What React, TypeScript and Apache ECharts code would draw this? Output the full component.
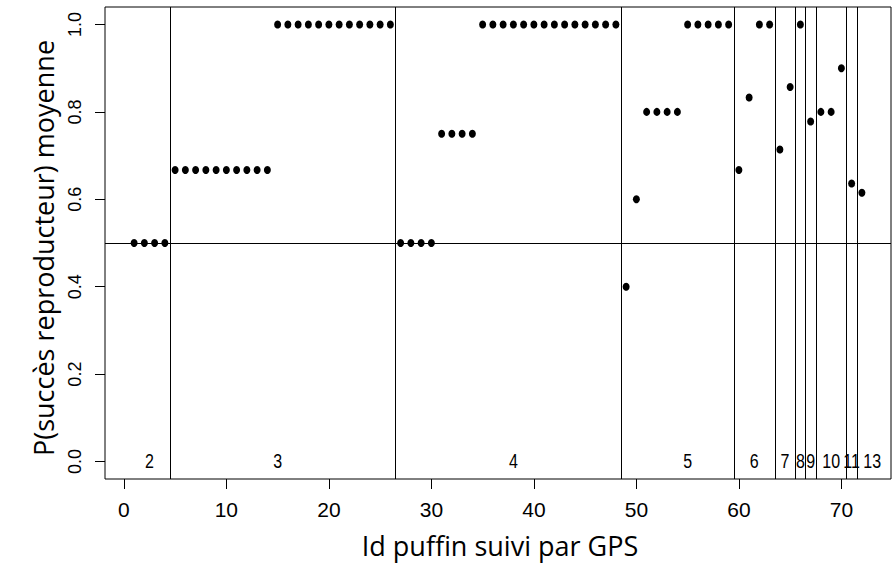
import React, { useEffect, useRef } from "react";
import * as echarts from "echarts";

// Id of each GPS-tracked shearwater
const ids = [
  1, 2, 3, 4, 5, 6, 7, 8, 9, 10, 11, 12, 13, 14, 15, 16, 17, 18, 19, 20, 21, 22, 23, 24,
  25, 26, 27, 28, 29, 30, 31, 32, 33, 34, 35, 36, 37, 38, 39, 40, 41, 42, 43, 44, 45, 46, 47, 48,
  49, 50, 51, 52, 53, 54, 55, 56, 57, 58, 59, 60, 61, 62, 63, 64, 65, 66, 67, 68, 69, 70, 71, 72,
];

// Mean P(breeding success) per bird
const pSucces = [
  0.5, 0.5, 0.5, 0.5,
  0.667, 0.667, 0.667, 0.667, 0.667, 0.667, 0.667, 0.667, 0.667, 0.667,
  1, 1, 1, 1, 1, 1, 1, 1, 1, 1, 1, 1,
  0.5, 0.5, 0.5, 0.5,
  0.75, 0.75, 0.75, 0.75,
  1, 1, 1, 1, 1, 1, 1, 1, 1, 1, 1, 1, 1, 1,
  0.4, 0.6, 0.8, 0.8, 0.8, 0.8, 1, 1, 1, 1, 1,
  0.667, 0.833, 1, 1,
  0.714, 0.857,
  1,
  0.778,
  0.8, 0.8, 0.9,
  0.636,
  0.615,
];

// Boundaries between groups (number of years followed)
const groupBreaks = [4.5, 26.5, 48.5, 59.5, 63.5, 65.5, 66.5, 67.5, 70.5, 71.5];
const groupLabels = ["2", "3", "4", "5", "6", "7", "8", "9", "10", "11", "13"];
const groupLabelX = [2.5, 15, 38, 55, 61.5, 64.5, 66, 67, 69, 71, 73];

const refLineY = [0.5];

const xTicks = [0, 10, 20, 30, 40, 50, 60, 70];
const yTicks = [0, 0.2, 0.4, 0.6, 0.8, 1.0];

const xTitle = "Id puffin suivi par GPS";
const yTitle = "P(succès reproducteur) moyenne";

export default function App() {
  const ref = useRef<HTMLDivElement>(null);

  useEffect(() => {
    if (!ref.current) return;
    const chart = echarts.init(ref.current, null, { renderer: "svg" });
    const tickFont = "'Liberation Sans', Arial, sans-serif";
    const option: any = {
      animation: false,
      backgroundColor: "#ffffff",
      grid: {
        left: 105,
        top: 7,
        right: 2,
        bottom: 94,
        show: true,
        borderColor: "#000",
        borderWidth: 1,
        backgroundColor: "transparent",
      },
      xAxis: {
        type: "value",
        min: -1.84,
        max: 74.84,
        axisLine: { show: false, onZero: false },
        splitLine: { show: false },
        axisTick: {
          show: true,
          customValues: xTicks,
          length: 10,
          inside: false,
          lineStyle: { color: "#000", width: 1 },
        },
        axisLabel: {
          show: true,
          customValues: xTicks,
          margin: 20,
          color: "#000",
          fontFamily: tickFont,
          fontSize: 21,
          formatter: (v: number) => String(v),
        },
      },
      yAxis: {
        type: "value",
        min: -0.04,
        max: 1.04,
        axisLine: { show: false, onZero: false },
        splitLine: { show: false },
        axisTick: {
          show: true,
          customValues: yTicks,
          length: 10,
          inside: false,
          lineStyle: { color: "#000", width: 1 },
        },
        axisLabel: {
          show: true,
          customValues: yTicks,
          rotate: 90,
          margin: 21,
          color: "#000",
          fontFamily: tickFont,
          fontSize: 18,
          formatter: (v: number) => v.toFixed(1),
        },
      },
      graphic: [
        {
          type: "text",
          x: 500,
          y: 545,
          style: {
            text: xTitle,
            font: "27px 'Open Sans', sans-serif",
            fill: "#000",
            align: "center",
            verticalAlign: "middle",
          },
        },
        {
          type: "text",
          x: 43,
          y: 248,
          rotation: Math.PI / 2,
          style: {
            text: yTitle,
            font: "27px 'Open Sans', sans-serif",
            fill: "#000",
            align: "center",
            verticalAlign: "middle",
          },
        },
      ],
      series: [
        {
          type: "scatter",
          data: ids.map((id, i) => [id, pSucces[i]]),
          symbol: "circle",
          symbolSize: [7, 8],
          itemStyle: { color: "#000", opacity: 1 },
          z: 5,
          markLine: {
            silent: true,
            symbol: ["none", "none"],
            label: { show: false },
            lineStyle: { color: "#000", width: 1, type: "solid", opacity: 1 },
            data: [
              ...groupBreaks.map((x) => ({ xAxis: x })),
              ...refLineY.map((y) => ({ yAxis: y })),
            ],
          },
        },
        {
          type: "custom",
          data: groupLabelX.map((x) => [x, 0]),
          z: 4,
          silent: true,
          renderItem: (params: any, api: any) => {
            const pt = api.coord([api.value(0), api.value(1)]);
            return {
              type: "text",
              x: pt[0],
              y: pt[1],
              scaleX: 0.8,
              style: {
                text: groupLabels[params.dataIndex],
                fill: "#000",
                font: "20px 'Liberation Sans', Arial, sans-serif",
                align: "center",
                verticalAlign: "middle",
              },
            };
          },
        },
      ],
    };
    chart.setOption(option);
    return () => chart.dispose();
  }, []);

  return (
    <div
      ref={ref}
      style={{ position: "fixed", left: 0, top: 0, width: 893, height: 573, background: "#fff" }}
    />
  );
}
